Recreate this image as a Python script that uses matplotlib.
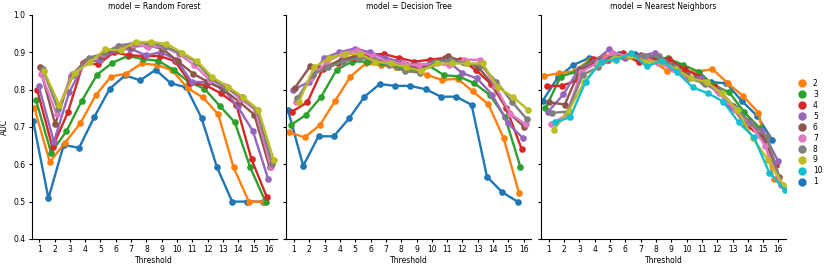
import numpy as np
import pandas as pd
import matplotlib
matplotlib.use('Agg')
import matplotlib.pyplot as plt
from matplotlib.lines import Line2D
import seaborn as sns

# thresholds on the x axis, hue levels, facet names
thresholds = list(range(1, 17))
levels = ['1', '2', '3', '4', '5', '6', '7', '8', '9', '10']
legend_order = ['2', '3', '4', '5', '6', '7', '8', '9', '10', '1']
models = ['Random Forest', 'Decision Tree', 'Nearest Neighbors']

# AUC per hue level (rows 1..9) - Random Forest
rf_auc = [
    [0.717, 0.509, 0.652, 0.644, 0.727, 0.802, 0.838, 0.825, 0.853, 0.817, 0.806, 0.724, 0.593, 0.500, 0.500, 0.500],
    [0.750, 0.606, 0.658, 0.710, 0.785, 0.835, 0.843, 0.870, 0.866, 0.852, 0.804, 0.779, 0.734, 0.592, 0.500, 0.500],
    [0.773, 0.631, 0.689, 0.770, 0.840, 0.872, 0.890, 0.882, 0.877, 0.853, 0.820, 0.803, 0.757, 0.712, 0.592, 0.500],
    [0.799, 0.645, 0.739, 0.870, 0.868, 0.900, 0.892, 0.890, 0.890, 0.876, 0.818, 0.812, 0.790, 0.760, 0.613, 0.512],
    [0.811, 0.660, 0.793, 0.870, 0.880, 0.905, 0.910, 0.892, 0.900, 0.880, 0.821, 0.820, 0.805, 0.755, 0.689, 0.560],
    [0.860, 0.707, 0.836, 0.878, 0.890, 0.910, 0.915, 0.918, 0.910, 0.876, 0.843, 0.820, 0.800, 0.768, 0.733, 0.592],
    [0.842, 0.734, 0.842, 0.875, 0.895, 0.918, 0.920, 0.915, 0.915, 0.895, 0.866, 0.825, 0.810, 0.775, 0.745, 0.592],
    [0.855, 0.748, 0.840, 0.885, 0.897, 0.918, 0.925, 0.925, 0.915, 0.898, 0.875, 0.830, 0.805, 0.780, 0.745, 0.600],
    [0.850, 0.758, 0.845, 0.873, 0.908, 0.905, 0.928, 0.927, 0.923, 0.899, 0.876, 0.833, 0.808, 0.780, 0.746, 0.612],
]

# Decision Tree (rows 1..9)
dt_auc = [
    [0.746, 0.596, 0.675, 0.675, 0.723, 0.781, 0.815, 0.810, 0.810, 0.801, 0.781, 0.781, 0.759, 0.567, 0.525, 0.500],
    [0.686, 0.672, 0.705, 0.770, 0.835, 0.870, 0.865, 0.860, 0.855, 0.839, 0.826, 0.829, 0.795, 0.761, 0.670, 0.524],
    [0.705, 0.732, 0.781, 0.853, 0.875, 0.875, 0.870, 0.860, 0.855, 0.865, 0.839, 0.835, 0.817, 0.786, 0.727, 0.594],
    [0.741, 0.766, 0.855, 0.870, 0.885, 0.895, 0.895, 0.885, 0.875, 0.880, 0.885, 0.880, 0.853, 0.815, 0.750, 0.641],
    [0.800, 0.820, 0.885, 0.900, 0.910, 0.900, 0.885, 0.875, 0.865, 0.870, 0.880, 0.845, 0.830, 0.786, 0.710, 0.670],
    [0.804, 0.862, 0.860, 0.880, 0.890, 0.885, 0.875, 0.870, 0.855, 0.870, 0.890, 0.875, 0.860, 0.810, 0.737, 0.700],
    [0.768, 0.830, 0.875, 0.895, 0.905, 0.890, 0.875, 0.870, 0.865, 0.870, 0.865, 0.880, 0.880, 0.810, 0.735, 0.707],
    [0.777, 0.840, 0.860, 0.875, 0.885, 0.880, 0.865, 0.850, 0.845, 0.875, 0.880, 0.870, 0.865, 0.821, 0.768, 0.720],
    [0.766, 0.860, 0.885, 0.895, 0.895, 0.875, 0.870, 0.860, 0.850, 0.870, 0.870, 0.870, 0.870, 0.806, 0.780, 0.745],
]

# Nearest Neighbors (rows 1..10)
nn_auc = [
    [0.770, 0.833, 0.866, 0.884, 0.885, 0.895, 0.895, 0.885, 0.875, 0.860, 0.841, 0.820, 0.817, 0.770, 0.730, 0.665],
    [0.837, 0.844, 0.850, 0.880, 0.890, 0.890, 0.885, 0.880, 0.851, 0.850, 0.848, 0.855, 0.817, 0.783, 0.738, 0.560],
    [0.750, 0.835, 0.848, 0.880, 0.885, 0.890, 0.885, 0.885, 0.884, 0.866, 0.848, 0.812, 0.793, 0.739, 0.697, 0.600],
    [0.810, 0.810, 0.826, 0.881, 0.880, 0.897, 0.873, 0.888, 0.881, 0.855, 0.835, 0.806, 0.759, 0.705, 0.676, 0.598],
    [0.741, 0.787, 0.855, 0.875, 0.908, 0.885, 0.890, 0.899, 0.860, 0.835, 0.830, 0.800, 0.750, 0.710, 0.690, 0.610],
    [0.766, 0.760, 0.855, 0.870, 0.890, 0.890, 0.893, 0.885, 0.860, 0.840, 0.820, 0.795, 0.755, 0.715, 0.665, 0.565],
    [0.708, 0.732, 0.848, 0.870, 0.899, 0.890, 0.890, 0.870, 0.855, 0.830, 0.820, 0.790, 0.745, 0.710, 0.650, 0.545],
    [0.738, 0.741, 0.840, 0.860, 0.885, 0.890, 0.890, 0.890, 0.860, 0.830, 0.815, 0.795, 0.750, 0.710, 0.675, 0.545],
    [0.692, 0.744, 0.821, 0.870, 0.885, 0.890, 0.875, 0.875, 0.855, 0.830, 0.820, 0.790, 0.745, 0.671, 0.612, 0.545],
    [0.712, 0.726, 0.821, 0.875, 0.880, 0.897, 0.862, 0.878, 0.846, 0.806, 0.790, 0.768, 0.712, 0.672, 0.578, 0.531],
]

# long-form table for seaborn
rows = []
for model, table in zip(models, [rf_auc, dt_auc, nn_auc]):
    for lev, vals in zip(levels, table):
        for t, v in zip(thresholds, vals):
            rows.append((model, lev, t, v))
df = pd.DataFrame(rows, columns=['model', 'k', 'Threshold', 'AUC'])

fs = 5.5
plt.rcParams['font.size'] = fs
colors = dict(zip(levels, sns.color_palette('tab10', 10)))

g = sns.catplot(data=df, x='Threshold', y='AUC', hue='k', col='model',
                col_order=models, hue_order=levels, palette=colors,
                kind='point', dodge=0.8, errorbar=None, legend=False,
                linewidth=1.7, markersize=4.8, markeredgewidth=0,
                height=2.5, aspect=1.0)
g.fig.set_size_inches(8.31, 2.67)
g.set(ylim=(0.4, 1.0), yticks=np.arange(0.4, 1.01, 0.1))
g.set_titles('model = {col_name}', size=fs, pad=4)
for ax in g.axes.flat:
    ax.tick_params(labelsize=fs, length=2.5, width=0.8, pad=2)
    ax.xaxis.label.set_size(fs)
    ax.yaxis.label.set_size(fs)
    ax.xaxis.labelpad = 1
    ax.yaxis.labelpad = 3
g.fig.subplots_adjust(left=0.038, right=0.946, bottom=0.105, top=0.944, wspace=0.04)

handles = [Line2D([], [], marker='o', linestyle='', color=colors[l], markersize=5) for l in legend_order]
g.fig.legend(handles, legend_order, loc='center left', bbox_to_anchor=(0.948, 0.503),
             frameon=False, fontsize=fs, handletextpad=0.4, labelspacing=0.25)

g.fig.savefig('out.png', dpi=100)
